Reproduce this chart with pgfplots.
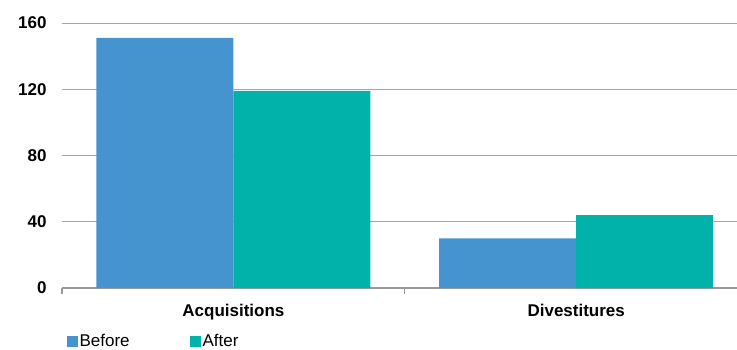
\documentclass[border=0pt]{standalone}
\usepackage{pgfplots}
\pgfplotsset{compat=1.18}
\usepackage{fontspec}
\setmainfont{Liberation Sans}
\definecolor{cBefore}{HTML}{4694CF}
\definecolor{cAfter}{HTML}{00B2AA}
\definecolor{gridc}{HTML}{A6A6A6}
\definecolor{axc}{HTML}{999999}
\begin{document}
\begin{tikzpicture}
\useasboundingbox (-62pt,-61pt) rectangle (675pt,288pt);
\begin{axis}[
  at={(0pt,0pt)}, anchor=south west,
  scale only axis, width=675pt, height=265pt,
  ybar=0pt, bar width=137pt,
  xmin=-0.5, xmax=1.469,
  ymin=0, ymax=160,
  ytick={0,40,80,120,160},
  xtick={-0.5,0.5}, xticklabels={},
  x tick style={draw=axc, line width=1.2pt},
  xtick align=outside, major tick length=6pt,
  extra x ticks={0,1},
  extra x tick labels={Acquisitions,Divestitures},
  extra x tick style={grid=none, major tick length=0pt, x tick style={draw=none}},
  ymajorgrids, grid style={gridc, line width=0.9pt},
  axis lines*=left,
  y axis line style={draw=none},
  x axis line style={axc, line width=2.8pt, -},
  y tick style={draw=none},
  /pgf/number format/assume math mode=true,
  yticklabel style={font=\fontsize{17}{18}\selectfont\bfseries, anchor=east, xshift=-12pt},
  xticklabel style={font=\fontsize{17}{18}\selectfont\bfseries, yshift=-13pt},
  legend columns=2,
  legend style={draw=none, fill=none, at={(0.002,-0.2)}, anchor=west, font=\fontsize{17}{18}\selectfont,
    /tikz/column 2/.style={column sep=58pt}},
  legend image code/.code={\fill[#1] (0pt,-5.5pt) rectangle (11pt,5.5pt);},
  legend cell align=left,
]
\addplot[fill=cBefore, draw=none] coordinates {(0,151) (1,30)};
\addlegendentry{Before}
\addplot[fill=cAfter, draw=none] coordinates {(0,119) (1,44)};
\addlegendentry{After}
\end{axis}
\end{tikzpicture}
\end{document}
